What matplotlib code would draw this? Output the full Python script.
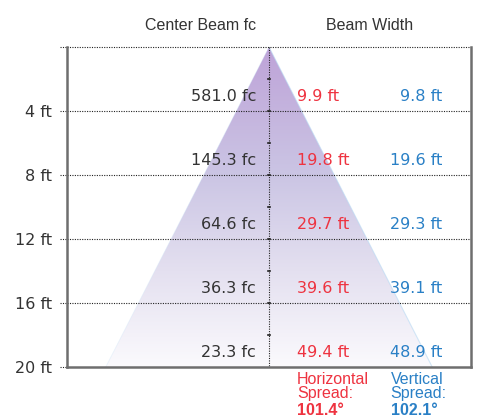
import numpy as np
import matplotlib
matplotlib.use("Agg")
import matplotlib.pyplot as plt
from matplotlib.colors import LinearSegmentedColormap
from matplotlib.patches import Polygon

# ---- data ----
distances = [4, 8, 12, 16, 20]
tick_labels = ["4 ft", "8 ft", "12 ft", "16 ft", "20 ft"]
center_fc = ["581.0 fc", "145.3 fc", "64.6 fc", "36.3 fc", "23.3 fc"]
horiz_width = ["9.9 ft", "19.8 ft", "29.7 ft", "39.6 ft", "49.4 ft"]
vert_width = ["9.8 ft", "19.6 ft", "29.3 ft", "39.1 ft", "48.9 ft"]
horiz_spread = "101.4°"
vert_spread = "102.1°"

plt.rcParams['font.family'] = ['Liberation Sans', 'DejaVu Sans']
NUMFONT = ['DejaVu Sans']
RED = "#ee3340"
BLUE = "#2a80c6"
DARK = "#333333"
GRAY = "#6e6e6e"

fig = plt.figure(figsize=(4.79, 4.20), dpi=100)
W, H = 479, 420
ax = fig.add_axes([67 / W, 1 - 367 / H, (471 - 67) / W, (367 - 47) / H])
half = 202 / 16.0
ax.set_xlim(-half, half)
ax.set_ylim(20, 0)

# gradient triangle
cmap = LinearSegmentedColormap.from_list(
    "beam", [(0.0, "#bea3d8"), (0.4, "#cbc5e4"), (0.7, "#e4e0f0"), (1.0, "#fbfafd")])
grad = np.linspace(0, 1, 256).reshape(-1, 1)
im = ax.imshow(grad, cmap=cmap, extent=[-half, half, 20, 0], aspect='auto', zorder=1)
tri = Polygon([[0, 0], [-10.2, 20], [10.2, 20]], closed=True, transform=ax.transData,
              facecolor='none', edgecolor='none')
ax.add_patch(tri)
im.set_clip_path(tri)
ax.plot([0, 10.2], [0, 20], color="#b8daf4", lw=0.8, alpha=0.6, zorder=1.5)
ax.plot([0, -10.2], [0, 20], color="#d0e6f8", lw=0.6, alpha=0.4, zorder=1.5)

# grid lines (dotted)
dot = (0, (1, 1.2))
for d in [0] + distances[:-1]:
    ax.plot([-half, half], [d, d], color="#222222", lw=0.8, ls=dot, zorder=2,
            clip_on=False)
    ax.plot([-half - 0.45, -half], [d, d], color="#222222", lw=0.8, ls=dot,
            clip_on=False, zorder=2)
ax.plot([-half - 0.45, -half], [20, 20], color="#222222", lw=0.8, ls=dot,
        clip_on=False, zorder=2)
ax.plot([0, 0], [0, 20], color="#222222", lw=0.8, ls=dot, zorder=2)
for d in range(2, 20, 2):
    ax.plot([-0.06, 0.06], [d, d], color="#222222", lw=1.2, zorder=2)

# spines
ax.spines["top"].set_visible(False)
for s in ["left", "right", "bottom"]:
    ax.spines[s].set_color(GRAY)
    ax.spines[s].set_linewidth(1.8)
ax.set_xticks([])
ax.set_yticks(distances)
ax.set_yticklabels(tick_labels, fontsize=11.5, color=DARK, family=NUMFONT)
ax.tick_params(axis='y', length=0, pad=11)

# headers
fs = 11.5
ax.text(-4.3, -0.9, "Center Beam fc", ha='center', va='bottom', fontsize=fs, color=DARK)
ax.text(6.3, -0.9, "Beam Width", ha='center', va='bottom', fontsize=fs, color=DARK)

for d, fc, hw, vw in zip(distances, center_fc, horiz_width, vert_width):
    y = d - 0.9
    ax.text(-0.8, y, fc, ha='right', va='center', fontsize=fs, color=DARK, zorder=3,
            family=NUMFONT)
    ax.text(1.75, y, hw, ha='left', va='center', fontsize=fs, color=RED, zorder=3,
            family=NUMFONT)
    ax.text(10.85, y, vw, ha='right', va='center', fontsize=fs, color=BLUE, zorder=3,
            family=NUMFONT)

# spread labels
ytop = 20.3
ax.text(1.75, ytop, "Horizontal\nSpread:", ha='left', va='top', fontsize=fs,
        color=RED, linespacing=0.9, clip_on=False)
ax.text(1.75, ytop + 1.95, horiz_spread, ha='left', va='top', fontsize=fs, color=RED,
        fontweight='bold', clip_on=False)
ax.text(7.6, ytop, "Vertical\nSpread:", ha='left', va='top', fontsize=fs,
        color=BLUE, linespacing=0.9, clip_on=False)
ax.text(7.6, ytop + 1.95, vert_spread, ha='left', va='top', fontsize=fs, color=BLUE,
        fontweight='bold', clip_on=False)

fig.savefig("out.png", dpi=100)
